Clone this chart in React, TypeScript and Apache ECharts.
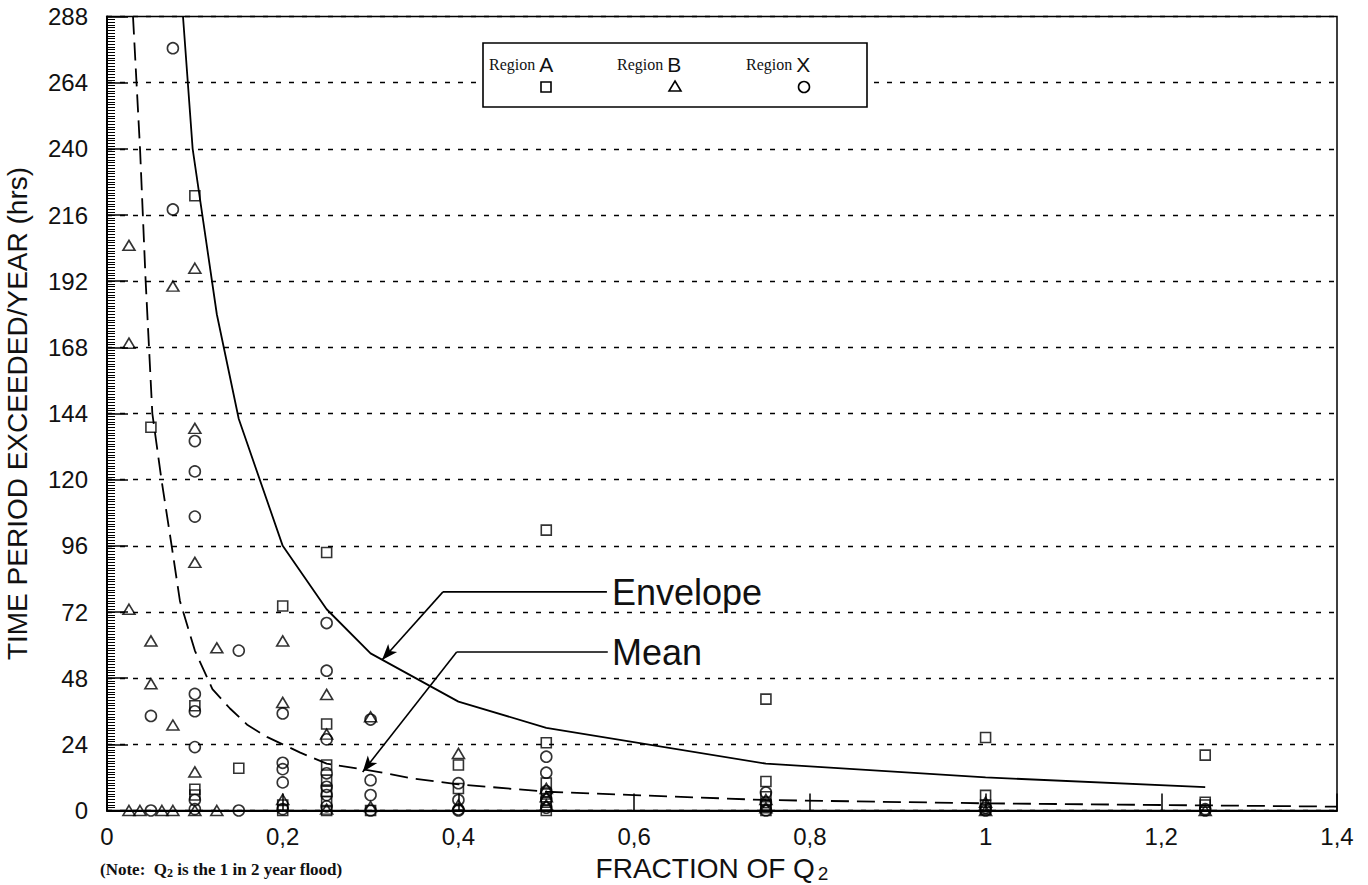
import React, { useEffect, useRef } from 'react';
import * as echarts from 'echarts';

// ---- data ----
const regionA: [number, number][] = [
  [0.1, 223], [0.05, 139], [0.5, 101.7], [0.25, 93.6], [0.2, 74.2], [0.75, 40.4],
  [0.1, 38], [0.25, 31.4], [1.0, 26.5], [0.5, 24.6], [1.25, 20.1], [0.25, 16.5],
  [0.4, 16.5], [0.15, 15.3], [0.75, 10.5], [0.5, 10], [0.25, 11], [0.4, 8],
  [0.1, 7.7], [0.1, 5.6], [0.25, 7], [0.5, 6], [0.75, 5], [1.0, 5.5], [1.25, 3],
  [0.25, 3.2], [0.5, 3], [0.75, 2], [1.0, 2], [1.25, 2], [0.2, 2], [0.2, 0],
  [0.25, 0], [0.3, 0], [0.5, 0], [0.75, 0], [1.0, 0.5],
];
const regionB: [number, number][] = [
  [0.025, 205], [0.1, 196.7], [0.075, 190.2], [0.025, 169.5], [0.1, 138.6], [0.1, 90],
  [0.025, 73], [0.05, 61.5], [0.2, 61.5], [0.125, 59], [0.05, 46], [0.25, 42.1],
  [0.2, 39.2], [0.3, 34], [0.075, 31], [0.25, 27.7], [0.4, 20.7], [0.1, 14],
  [0.5, 8], [0.5, 5], [0.75, 4], [1.0, 3], [0.2, 4], [0.3, 1.4], [0.5, 2], [0.75, 1],
  [1.0, 0], [1.25, 0], [0.025, 0], [0.0375, 0], [0.0625, 0], [0.075, 0], [0.1, 0],
  [0.125, 0], [0.25, 0.5], [0.4, 2],
];
const regionX: [number, number][] = [
  [0.075, 276.5], [0.075, 218], [0.1, 134], [0.1, 123], [0.1, 106.6], [0.25, 68],
  [0.15, 58], [0.25, 50.7], [0.1, 42.3], [0.1, 36], [0.2, 35.2], [0.05, 34.3],
  [0.3, 33], [0.25, 25.8], [0.1, 23], [0.5, 19.5], [0.2, 17.3], [0.2, 15],
  [0.5, 13.7], [0.25, 13.5], [0.3, 11], [0.2, 10.2], [0.4, 9.9], [0.25, 8.6],
  [0.75, 6.5], [0.5, 7], [0.3, 5.6], [0.25, 5.6], [0.1, 3.8], [0.4, 3.8], [0.5, 4],
  [0.75, 3], [1.0, 1], [1.25, 0.5], [0.25, 1.5], [0.2, 0.5], [0.05, 0], [0.15, 0],
  [0.1, 0.5], [0.3, 0], [0.4, 0.4], [0.5, 1], [0.75, 0], [1.0, 0], [1.25, 0], [0.4, 0],
];
const envelope: [number, number][] = [
  [0.0865, 288], [0.0975, 240], [0.125, 180], [0.15, 142], [0.2, 96], [0.25, 73],
  [0.3, 57], [0.4, 39.5], [0.5, 30], [0.75, 17], [1.0, 12], [1.25, 8.5],
];
const mean: [number, number][] = [
  [0.0296, 288], [0.0376, 240], [0.044, 192], [0.0516, 144], [0.062, 120],
  [0.0736, 96], [0.083, 76], [0.1, 58], [0.12, 44], [0.14, 37], [0.16, 31],
  [0.182, 26.7], [0.2, 24], [0.22, 21], [0.25, 17], [0.3, 14.5], [0.35, 11.5],
  [0.4, 9.5], [0.5, 6.8], [0.6, 5.6], [0.75, 3.8], [1.0, 2.6], [1.2, 2], [1.4, 1.4],
];
const envelopeArrow: [number, number][] = [[0.569, 79.3], [0.3824, 79.3], [0.313, 54.6]];
const meanArrow: [number, number][] = [[0.570, 57.5], [0.398, 57.5], [0.291, 14]];
const xRange = [0, 1.4, 0.2];
const yRange = [0, 288, 24];
const yMinorStep = 1;

const SANS = '"Liberation Sans", Arial, sans-serif';
const SERIF = '"Liberation Serif", "Times New Roman", serif';

function arrowSeries(pts: [number, number][]) {
  return {
    type: 'line',
    data: pts.slice(0, 2),
    symbol: 'none',
    silent: true,
    z: 5,
    lineStyle: { color: '#000', width: 1.6, type: 'solid' },
    markLine: {
      silent: true,
      symbol: ['none', 'arrow'],
      symbolSize: [9, 16],
      label: { show: false },
      lineStyle: { color: '#000', width: 1.6, type: 'solid' },
      data: [[{ coord: pts[1] }, { coord: pts[2] }]],
    },
  };
}

// a label-less y axis shifted into the plot so that its outward ticks sit inside the frame
function tickAxis(step: number, len: number, width: number) {
  return {
    type: 'value',
    position: 'left',
    offset: -len,
    min: yRange[0], max: yRange[1], interval: step,
    axisLine: { show: true, onZero: false, lineStyle: { color: 'rgba(0,0,0,0)', width: 1 } },
    axisTick: { show: true, inside: false, length: len, interval: 0, lineStyle: { color: '#000', width } },
    splitLine: { show: false },
    axisLabel: { show: false },
  };
}

const hollow = { color: 'transparent', borderColor: '#000', borderWidth: 1.6 };

export default function App() {
  const ref = useRef<HTMLDivElement>(null);
  useEffect(() => {
    document.body.style.margin = '0';
    const chart = echarts.init(ref.current!, null, { renderer: 'svg' });
    chart.setOption({
      animation: false,
      backgroundColor: '#fff',
      grid: {
        left: 107, right: 31, top: 16.5, bottom: 74.5, show: true, borderColor: '#000', borderWidth: 1.5,
        containLabel: false, outerBoundsMode: 'none',
      },
      xAxis: {
        type: 'value',
        min: xRange[0], max: xRange[1], interval: xRange[2],
        axisLine: { lineStyle: { color: '#000', width: 2 } },
        axisTick: { inside: true, length: 17, lineStyle: { color: '#000', width: 1.5 } },
        splitLine: { show: false },
        axisLabel: {
          color: '#111', fontFamily: SANS, fontSize: 24, margin: 14,
          formatter: (v: number) => String(Math.round(v * 10) / 10).replace('.', ','),
        },
        name: 'FRACTION OF Q{sub|2}',
        nameLocation: 'middle',
        nameGap: 41,
        nameTextStyle: {
          color: '#111', fontFamily: SANS, fontSize: 28, padding: [0, 20, 0, 0], lineHeight: 30,
          rich: { sub: { fontFamily: SANS, fontSize: 19, lineHeight: 30, verticalAlign: 'bottom', padding: [8, 0, 0, 3], color: '#111' } },
        },
      },
      yAxis: [
        {
          type: 'value',
          min: yRange[0], max: yRange[1], interval: yRange[2],
          axisLine: { show: true, lineStyle: { color: '#000', width: 2 } },
          axisTick: { show: false },
          splitLine: { show: true, lineStyle: { color: '#000', width: 1.3, type: [5, 8] } },
          axisLabel: { color: '#111', fontFamily: SANS, fontSize: 24, margin: 19 },
          name: 'TIME PERIOD EXCEEDED/YEAR (hrs)',
          nameLocation: 'middle',
          nameRotate: 90,
          nameGap: 76,
          nameTextStyle: { color: '#111', fontFamily: SANS, fontSize: 28 },
        },
        tickAxis(yMinorStep, 8, 1),
        tickAxis(yRange[2], 21, 1.5),
      ],
      series: [
        {
          name: 'Envelope', type: 'line', data: envelope, symbol: 'none', clip: true, z: 3,
          lineStyle: { color: '#000', width: 1.8 },
        },
        {
          name: 'Mean', type: 'line', data: mean, symbol: 'none', clip: true, z: 3,
          lineStyle: { color: '#000', width: 1.8, type: [18, 8] },
        },
        {
          name: 'Region A', type: 'scatter', data: regionA, symbol: 'rect', symbolSize: [10, 10], z: 4,
          itemStyle: hollow,
        },
        {
          name: 'Region B', type: 'scatter', data: regionB, symbol: 'triangle', symbolSize: [12, 10], z: 4,
          itemStyle: hollow,
        },
        {
          name: 'Region X', type: 'scatter', data: regionX, symbol: 'circle', symbolSize: 11, z: 4,
          itemStyle: hollow,
        },
        arrowSeries(envelopeArrow),
        arrowSeries(meanArrow),
      ],
      graphic: [
        {
          type: 'rect', z: 10,
          shape: { x: 483, y: 43, width: 384, height: 64 },
          style: { fill: '#fff', stroke: '#000', lineWidth: 1.6 },
        },
        ...[
          { t: 'A', x: 489 },
          { t: 'B', x: 617 },
          { t: 'X', x: 746 },
        ].map((d) => ({
          type: 'text', z: 11,
          style: {
            text: '{s|Region }{b|' + d.t + '}', x: d.x, y: 64, verticalAlign: 'middle', align: 'left',
            rich: {
              s: { fontFamily: SERIF, fontSize: 16, fill: '#111', color: '#111' },
              b: { fontFamily: SANS, fontSize: 21, fill: '#111', color: '#111' },
            },
          },
        })),
        {
          type: 'rect', z: 11,
          shape: { x: 541, y: 82, width: 10, height: 10 },
          style: { fill: '#fff', stroke: '#000', lineWidth: 1.6 },
        },
        {
          type: 'polygon', z: 11,
          shape: { points: [[675, 81], [681, 91], [669, 91]] },
          style: { fill: '#fff', stroke: '#000', lineWidth: 1.6 },
        },
        {
          type: 'circle', z: 11,
          shape: { cx: 804, cy: 87, r: 5.5 },
          style: { fill: '#fff', stroke: '#000', lineWidth: 1.6 },
        },
        {
          type: 'text', z: 11,
          style: { text: 'Envelope', x: 612, y: 592, verticalAlign: 'middle', font: '36px ' + SANS, fill: '#111' },
        },
        {
          type: 'text', z: 11,
          style: { text: 'Mean', x: 612, y: 652, verticalAlign: 'middle', font: '36px ' + SANS, fill: '#111' },
        },
        {
          type: 'text', z: 11,
          style: {
            text: '{n|(Note:  Q}{sub|2}{n| is the 1 in 2 year flood)}', x: 100, y: 869, verticalAlign: 'middle',
            rich: {
              n: { fontFamily: SERIF, fontSize: 17, fontWeight: 'bold', fill: '#111', color: '#111' },
              sub: { fontFamily: SERIF, fontSize: 12, fontWeight: 'bold', fill: '#111', color: '#111', padding: [8, 0, 0, 0] },
            },
          },
        },
      ],
    });
    return () => chart.dispose();
  }, []);
  return <div ref={ref} style={{ width: 1368, height: 885 }} />;
}
